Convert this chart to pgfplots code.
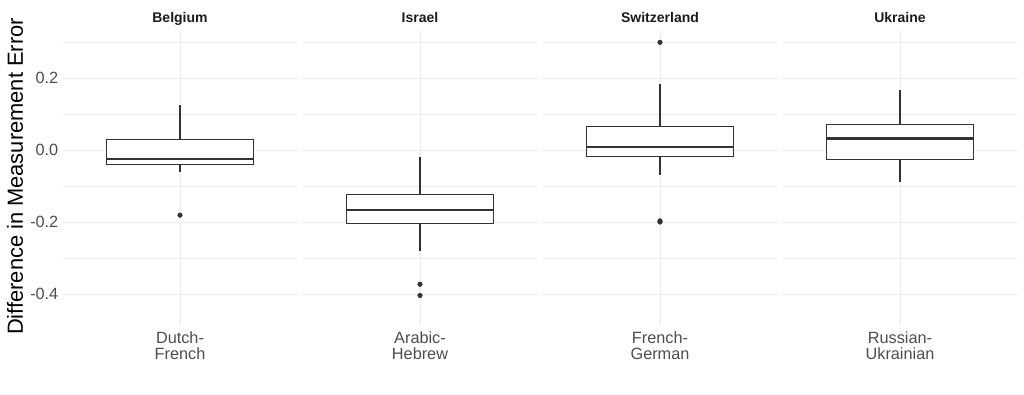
\documentclass[border=0pt]{standalone}
\usepackage{pgfplots}
\pgfplotsset{compat=1.18}
\usepgfplotslibrary{statistics}
\usepackage{fontspec}
\setmainfont{Liberation Sans}
\definecolor{gridc}{HTML}{EBEBEB}
\definecolor{boxc}{HTML}{333333}
\definecolor{tickc}{HTML}{4D4D4D}
\definecolor{stripc}{HTML}{1A1A1A}
\pgfplotsset{
  facet/.style={
    scale only axis, width=175.5pt, height=221.25pt, anchor=south west,
    xmin=0.4, xmax=1.6, ymin=-0.4861, ymax=0.3333,
    axis line style={draw=none},
    major tick length=0pt, minor tick length=0pt,
    xtick={1}, ytick={-0.4,-0.2,0,0.2}, minor ytick={-0.3,-0.1,0.1,0.3},
    ymajorgrids, yminorgrids, xmajorgrids,
    major grid style={draw=gridc, line width=0.7pt},
    minor grid style={draw=gridc, line width=0.35pt},
    tick label style={font=\fontsize{12.2}{12.2}\selectfont, text=tickc},
    xticklabel style={align=center, yshift=-1.5pt},
    /pgf/number format/assume math mode=true,
    /pgf/number format/fixed, /pgf/number format/fixed zerofill, /pgf/number format/precision=1,
    every axis title/.style={at={(0.5,1)}, anchor=base, yshift=5.25pt,
      font=\bfseries\fontsize{10.5}{12}\selectfont, text=stripc},
    boxplot/draw direction=y,
    boxplot/box extend=0.75,
    boxplot/whisker extend=0,
    boxplot/every box/.style={draw=boxc, fill=white, line width=0.85pt},
    boxplot/every whisker/.style={draw=boxc, line width=0.85pt},
    boxplot/every median/.style={draw=boxc, line width=1.7pt},
  },
  bx/.style={mark=*, mark size=1.7pt, mark options={fill=boxc, draw=boxc, solid, line width=0.4pt}, draw=boxc, line width=0.85pt},
}
\begin{document}
\begin{tikzpicture}
\path[use as bounding box] (0,0) rectangle (768pt,295.5pt);
\node[rotate=90, anchor=center, font=\fontsize{16.4}{18}\selectfont, text=black] at (11.25pt,163.1pt) {Difference in Measurement Error};

\begin{axis}[facet, at={(47.25pt,51.75pt)}, title={Belgium}, xticklabels={Dutch-\\French}]
\addplot[bx, boxplot prepared={draw position=1, lower whisker=-0.060, lower quartile=-0.040, median=-0.026, upper quartile=0.0297, upper whisker=0.125}]
  table[row sep=\\, y index=0] {-0.181\\};
\end{axis}

\begin{axis}[facet, at={(227.25pt,51.75pt)}, title={Israel}, xticklabels={Arabic-\\Hebrew}, yticklabels={}]
\addplot[bx, boxplot prepared={draw position=1, lower whisker=-0.281, lower quartile=-0.205, median=-0.167, upper quartile=-0.124, upper whisker=-0.020}]
  table[row sep=\\, y index=0] {-0.373\\-0.404\\};
\end{axis}

\begin{axis}[facet, at={(407.25pt,51.75pt)}, title={Switzerland}, xticklabels={French-\\German}, yticklabels={}]
\addplot[bx, boxplot prepared={draw position=1, lower whisker=-0.070, lower quartile=-0.019, median=0.009, upper quartile=0.065, upper whisker=0.182}]
  table[row sep=\\, y index=0] {0.299\\-0.197\\-0.200\\};
\end{axis}

\begin{axis}[facet, at={(587.25pt,51.75pt)}, title={Ukraine}, xticklabels={Russian-\\Ukrainian}, yticklabels={}]
\addplot[bx, boxplot prepared={draw position=1, lower whisker=-0.088, lower quartile=-0.027, median=0.032, upper quartile=0.071, upper whisker=0.167}]
  coordinates {};
\end{axis}
\end{tikzpicture}
\end{document}
